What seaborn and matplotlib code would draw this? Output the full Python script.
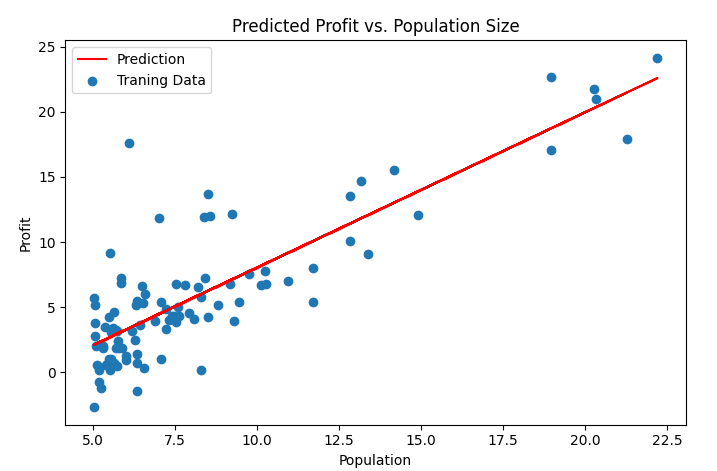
import numpy as np
import pandas as pd
import seaborn as sns
import matplotlib
matplotlib.use("Agg")
import matplotlib.pyplot as plt

population = [6.1101, 5.5277, 8.5186, 7.0032, 5.8598, 8.3829, 7.4764, 8.5781, 6.4862, 5.0546,
              5.7107, 14.164, 5.734, 8.4084, 5.6407, 5.3794, 6.3654, 5.1301, 6.4296, 7.0708,
              6.1891, 20.27, 5.4901, 6.3261, 5.5649, 18.945, 12.828, 10.957, 13.176, 22.203,
              5.2524, 6.5894, 9.2482, 5.8918, 8.2111, 7.9334, 8.0959, 5.6063, 12.836, 6.3534,
              5.4069, 6.8825, 11.708, 5.7737, 7.8247, 7.0931, 5.0702, 5.8014, 11.7, 5.5416,
              7.5402, 5.3077, 7.4239, 7.6031, 6.3328, 6.3589, 6.2742, 5.6397, 9.3102, 9.4536,
              8.8254, 5.1793, 21.279, 14.908, 18.959, 7.2182, 8.2951, 10.236, 5.4994, 20.341,
              10.136, 7.3345, 6.0062, 7.2259, 5.0269, 6.5479, 7.5386, 5.0365, 10.274, 5.1077,
              5.7292, 5.1884, 6.3557, 9.7687, 6.5159, 8.5172, 9.1802, 6.002, 5.5204, 5.0594,
              5.7077, 7.6366, 5.8707, 5.3054, 8.2934, 13.394, 5.4369]
profit = [17.592, 9.1302, 13.662, 11.854, 6.8233, 11.886, 4.3483, 12.0, 6.5987, 3.8166,
          3.2522, 15.505, 3.1551, 7.2258, 0.71618, 3.5129, 5.3048, 0.56077, 3.6518, 5.3893,
          3.1386, 21.767, 4.263, 5.1875, 3.0825, 22.638, 13.501, 7.0467, 14.692, 24.147,
          -1.22, 5.9966, 12.134, 1.8495, 6.5426, 4.5623, 4.1164, 3.3928, 10.117, 5.4974,
          0.55657, 3.9115, 5.3854, 2.4406, 6.7318, 1.0463, 5.1337, 1.844, 8.0043, 1.0179,
          6.7504, 1.8396, 4.2885, 4.9981, 1.4233, -1.4211, 2.4756, 4.6042, 3.9624, 5.4141,
          5.1694, -0.74279, 17.929, 12.054, 17.054, 4.8852, 5.7442, 7.7754, 1.0173, 20.992,
          6.6799, 4.0259, 1.2784, 3.3411, -2.6807, 0.29678, 3.8845, 5.7014, 6.7526, 2.0576,
          0.47953, 0.20421, 0.67861, 7.5435, 5.3436, 4.2415, 6.7981, 0.92695, 0.152, 2.8214,
          1.8451, 4.2959, 7.2029, 1.9869, 0.14454, 9.0551, 0.61705]

df = pd.DataFrame({"Population": population, "Profit": profit})
# least squares fit (same as normal equation)
slope, intercept = np.polyfit(df["Population"], df["Profit"], 1)
df["Prediction"] = intercept + slope * df["Population"]

fig, ax = plt.subplots(figsize=(7.17, 4.71), dpi=100)
fig.subplots_adjust(left=0.0913, right=0.9563, top=0.9144, bottom=0.0983)

sns.lineplot(data=df, x="Population", y="Prediction", color="red", label="Prediction",
             estimator=None, sort=False, ax=ax)
sns.scatterplot(data=df, x="Population", y="Profit", color="#1f77b4", s=36,
                edgecolor="#1f77b4", linewidth=1, label="Traning Data", ax=ax)

ax.set_title("Predicted Profit vs. Population Size")
ax.set_xlabel("Population")
ax.set_ylabel("Profit")
ax.legend(loc="upper left")

fig.savefig("out.png", dpi=100)
